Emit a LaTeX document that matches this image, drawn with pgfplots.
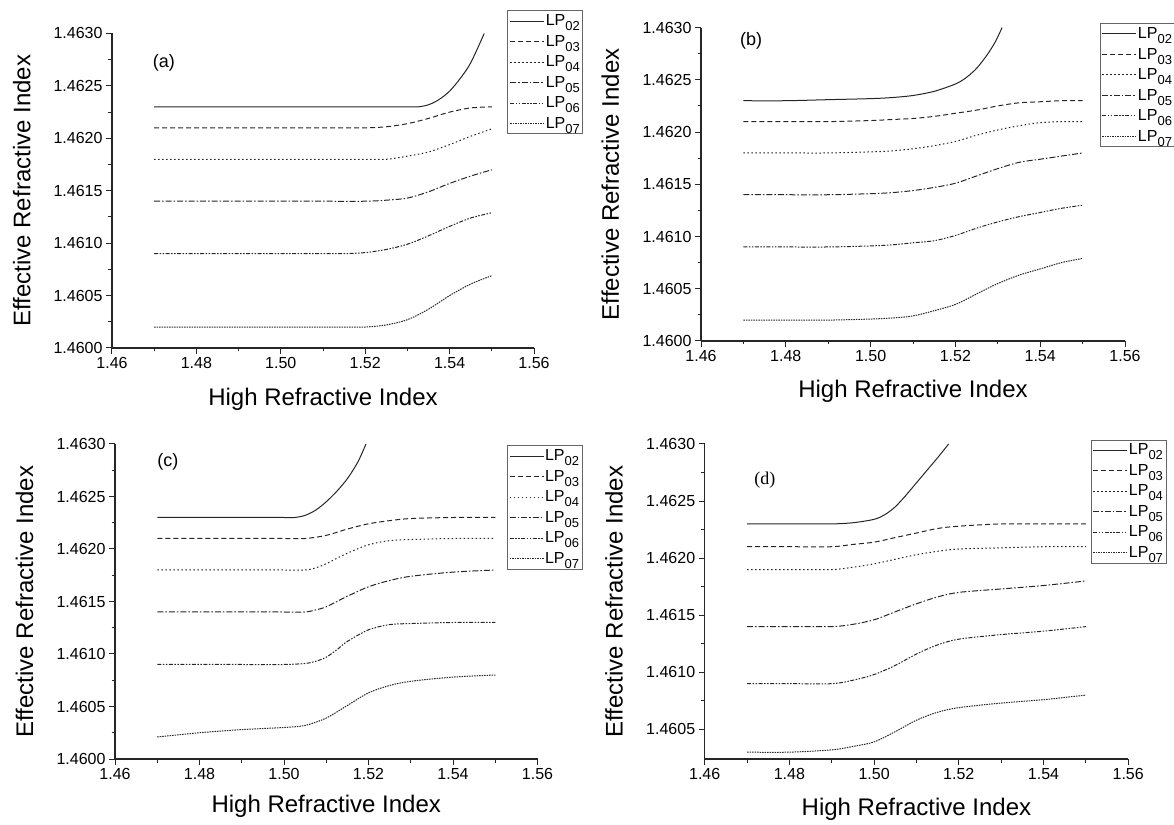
\documentclass[border=0pt]{standalone}
\usepackage{fontspec}
\setmainfont{Liberation Sans}
\newfontfamily\seriffont{Liberation Serif}
\usepackage{pgfplots}
\pgfplotsset{compat=1.18}
\newcommand\sub[1]{\raisebox{-5pt}{\fontsize{13}{13}\selectfont #1}}
% exact read-in of y values of the form 1.46xyz (avoids loss of precision);
% values of any other form are passed through unchanged
\def\YfixIn#1{\edef\YfixTmp{#1}\expandafter\YfixSplit\YfixTmp Y\Ynil}
\def\YfixSplit#1Y#2\Ynil{\ifx\relax#2\relax\YfixPlain{#1}\else\YfixFpu#2\Ynil\fi}
\def\YfixFpu#1e#2]#3\Ynil{\ifnum#2=0 \YfixPlain{#1}\else\let\pgfmathresult\YfixTmp\fi}
\def\YfixPlain#1{\YfixDigits#100000.00000\Ynil}
\def\YfixWant{146}
\def\YfixDigits#1.#2#3#4#5#6#7\Ynil{\def\YfixPre{#1#2#3}%
  \ifx\YfixPre\YfixWant\def\pgfmathresult{#4#5.#6}\else\let\pgfmathresult\YfixTmp\fi}
\pgfplotsset{y coord trafo/.code={\YfixIn{#1}}}
\pgfplotsset{
  s02/.style={black!85, line width=1pt, solid, smooth, tension=0.5},
  s03/.style={black!85, line width=1pt, dash pattern=on 5pt off 3pt, smooth, tension=0.5},
  s04/.style={black!85, line width=1pt, dash pattern=on 1.5pt off 2.5pt, smooth, tension=0.5},
  s05/.style={black!85, line width=1pt, dash pattern=on 6pt off 2pt on 1.5pt off 2pt, smooth, tension=0.5},
  s06/.style={black!85, line width=1pt, dash pattern=on 4pt off 1.5pt on 1.5pt off 1.5pt on 1.5pt off 1.5pt, smooth, tension=0.5},
  s07/.style={black!85, line width=1pt, dash pattern=on 1.5pt off 1pt, smooth, tension=0.5},
  panel/.style={
    scale only axis,
    anchor=south west,
    xmin=1.46, xmax=1.56,
    axis x line*=bottom, axis y line*=left,
    axis line style={line width=1.2pt, black!85},
    tick align=outside,
    major tick length=6pt, minor tick length=3.5pt,
    every tick/.style={line width=1pt, black!85},
    xtick={1.46,1.48,1.50,1.52,1.54,1.56},
    minor xtick={1.47,1.49,1.51,1.53,1.55},
    /pgf/number format/assume math mode=true,
    xticklabel style={font=\fontsize{16}{16}\selectfont, /pgf/number format/.cd, fixed, fixed zerofill, precision=2},
    yticklabel style={font=\fontsize{16}{16}\selectfont},
    xlabel={High Refractive Index},
    ylabel={Effective Refractive Index},
    label style={font=\fontsize{24}{24}\selectfont},
    xlabel style={at={(axis description cs:0.5,-0.162)}, anchor=center},
    ylabel style={at={(axis description cs:-0.214,0.5)}, anchor=center},
    legend cell align=left,
    legend image code/.code={\draw[##1] (0pt,0pt) -- (34pt,0pt);},
    legend style={anchor=north west, draw=black!60, line width=0.8pt, fill=white,
      font=\fontsize{16}{16}\selectfont, inner xsep=2pt, inner ysep=3pt, outer sep=0pt,
      row sep=6pt, nodes={inner sep=1pt}},
  },
  tall/.style={ymin=1.4600, ymax=1.4630,
    ytick={1.4600,1.4605,1.4610,1.4615,1.4620,1.4625,1.4630},
    yticklabels={1.4600,1.4605,1.4610,1.4615,1.4620,1.4625,1.4630},
    minor ytick={1.46025,1.46075,1.46125,1.46175,1.46225,1.46275}},
}
\begin{document}
\begin{tikzpicture}
\useasboundingbox (0pt,0pt) rectangle (1174pt,824pt);
% (a)
\begin{axis}[panel, tall, at={(112pt,476pt)}, width=422pt, height=314.5pt,
  legend style={at={(axis description cs:0.938,1.072)}}]
\addplot[s02] coordinates {(1.47,1.4623)(1.48,1.4623)(1.49,1.4623)(1.50,1.4623)(1.51,1.4623)(1.52,1.4623)(1.525,1.4623)(1.53,1.4623)(1.5325,1.4623)(1.535,1.46232)(1.5375,1.46237)(1.54,1.46245)(1.5425,1.46257)(1.545,1.46272)(1.5482,1.4630)};
\addlegendentry{LP\sub{02}}
\addplot[s03] coordinates {(1.47,1.4621)(1.48,1.4621)(1.49,1.4621)(1.50,1.4621)(1.51,1.4621)(1.515,1.4621)(1.52,1.4621)(1.525,1.46211)(1.53,1.46214)(1.535,1.46219)(1.54,1.46225)(1.545,1.46229)(1.55,1.4623)};
\addlegendentry{LP\sub{03}}
\addplot[s04] coordinates {(1.47,1.4618)(1.48,1.4618)(1.49,1.4618)(1.50,1.4618)(1.51,1.4618)(1.52,1.4618)(1.525,1.4618)(1.53,1.46183)(1.535,1.46187)(1.54,1.46194)(1.545,1.46202)(1.55,1.46209)};
\addlegendentry{LP\sub{04}}
\addplot[s05] coordinates {(1.47,1.4614)(1.48,1.4614)(1.49,1.4614)(1.50,1.4614)(1.51,1.4614)(1.52,1.4614)(1.525,1.46141)(1.53,1.46143)(1.535,1.46149)(1.54,1.46157)(1.545,1.46164)(1.55,1.4617)};
\addlegendentry{LP\sub{05}}
\addplot[s06] coordinates {(1.47,1.4609)(1.48,1.4609)(1.49,1.4609)(1.50,1.4609)(1.51,1.4609)(1.515,1.4609)(1.52,1.46091)(1.525,1.46094)(1.53,1.46099)(1.535,1.46107)(1.54,1.46116)(1.545,1.46124)(1.55,1.46129)};
\addlegendentry{LP\sub{06}}
\addplot[s07] coordinates {(1.47,1.4602)(1.48,1.4602)(1.49,1.4602)(1.50,1.4602)(1.51,1.4602)(1.515,1.4602)(1.52,1.4602)(1.525,1.46022)(1.53,1.46027)(1.535,1.46037)(1.54,1.4605)(1.545,1.46061)(1.55,1.46069)};
\addlegendentry{LP\sub{07}}
\node[font=\fontsize{18}{18}\selectfont] at (axis description cs:0.123,0.908) {(a)};
\end{axis}
% (b)
\begin{axis}[panel, tall, at={(701pt,483pt)}, width=424pt, height=313.4pt,
  legend style={at={(axis description cs:0.941,1.013)}}]
\addplot[s02] coordinates {(1.47,1.4623)(1.48,1.4623)(1.49,1.46231)(1.50,1.46232)(1.505,1.46233)(1.51,1.46235)(1.515,1.46239)(1.52,1.46246)(1.5225,1.46252)(1.525,1.46261)(1.5275,1.46274)(1.5295,1.46287)(1.531,1.4630)};
\addlegendentry{LP\sub{02}}
\addplot[s03] coordinates {(1.47,1.4621)(1.48,1.4621)(1.49,1.4621)(1.50,1.46211)(1.505,1.46212)(1.51,1.46213)(1.515,1.46215)(1.52,1.46218)(1.525,1.46221)(1.53,1.46225)(1.535,1.46228)(1.54,1.46229)(1.545,1.4623)(1.55,1.4623)};
\addlegendentry{LP\sub{03}}
\addplot[s04] coordinates {(1.47,1.4618)(1.48,1.4618)(1.49,1.4618)(1.50,1.46181)(1.505,1.46182)(1.51,1.46184)(1.515,1.46187)(1.52,1.46191)(1.525,1.46197)(1.53,1.46202)(1.535,1.46206)(1.54,1.46209)(1.545,1.4621)(1.55,1.4621)};
\addlegendentry{LP\sub{04}}
\addplot[s05] coordinates {(1.47,1.4614)(1.48,1.4614)(1.49,1.4614)(1.50,1.46141)(1.505,1.46142)(1.51,1.46144)(1.515,1.46147)(1.52,1.46151)(1.525,1.46158)(1.53,1.46165)(1.535,1.46171)(1.54,1.46174)(1.545,1.46177)(1.55,1.4618)};
\addlegendentry{LP\sub{05}}
\addplot[s06] coordinates {(1.47,1.4609)(1.48,1.4609)(1.49,1.4609)(1.50,1.46091)(1.505,1.46092)(1.51,1.46094)(1.515,1.46096)(1.52,1.46101)(1.525,1.46108)(1.53,1.46114)(1.535,1.46119)(1.54,1.46123)(1.545,1.46127)(1.55,1.4613)};
\addlegendentry{LP\sub{06}}
\addplot[s07] coordinates {(1.47,1.4602)(1.48,1.4602)(1.49,1.4602)(1.50,1.46021)(1.505,1.46022)(1.51,1.46024)(1.515,1.46029)(1.52,1.46035)(1.525,1.46045)(1.53,1.46055)(1.535,1.46063)(1.54,1.46069)(1.545,1.46075)(1.55,1.46079)};
\addlegendentry{LP\sub{07}}
\node[font=\fontsize{18}{18}\selectfont] at (axis description cs:0.118,0.959) {(b)};
\end{axis}
% (c)
\begin{axis}[panel, tall, at={(115pt,65pt)}, width=422.5pt, height=315pt,
  xlabel style={at={(axis description cs:0.5,-0.15)}},
  legend style={at={(axis description cs:0.928,0.994)}}]
\addplot[s02] coordinates {(1.47,1.4623)(1.48,1.4623)(1.49,1.4623)(1.50,1.4623)(1.5025,1.4623)(1.505,1.46232)(1.5075,1.46237)(1.51,1.46245)(1.5125,1.46255)(1.515,1.46267)(1.5175,1.46283)(1.5194,1.4630)};
\addlegendentry{LP\sub{02}}
\addplot[s03] coordinates {(1.47,1.4621)(1.48,1.4621)(1.49,1.4621)(1.50,1.4621)(1.505,1.4621)(1.51,1.46213)(1.515,1.46219)(1.52,1.46224)(1.525,1.46227)(1.53,1.46229)(1.54,1.4623)(1.55,1.4623)};
\addlegendentry{LP\sub{03}}
\addplot[s04] coordinates {(1.47,1.4618)(1.48,1.4618)(1.49,1.4618)(1.50,1.4618)(1.505,1.4618)(1.5075,1.46182)(1.51,1.46186)(1.515,1.46196)(1.52,1.46204)(1.525,1.46208)(1.53,1.46209)(1.54,1.4621)(1.55,1.4621)};
\addlegendentry{LP\sub{04}}
\addplot[s05] coordinates {(1.47,1.4614)(1.48,1.4614)(1.49,1.4614)(1.50,1.4614)(1.505,1.4614)(1.5075,1.46142)(1.51,1.46145)(1.515,1.46155)(1.52,1.46164)(1.525,1.4617)(1.53,1.46174)(1.54,1.46178)(1.55,1.4618)};
\addlegendentry{LP\sub{05}}
\addplot[s06] coordinates {(1.47,1.4609)(1.48,1.4609)(1.49,1.4609)(1.50,1.4609)(1.505,1.46091)(1.5075,1.46093)(1.51,1.46097)(1.5125,1.46104)(1.515,1.46112)(1.52,1.46123)(1.525,1.46128)(1.53,1.46129)(1.54,1.4613)(1.55,1.4613)};
\addlegendentry{LP\sub{06}}
\addplot[s07] coordinates {(1.47,1.46021)(1.48,1.46025)(1.49,1.46028)(1.50,1.4603)(1.505,1.46032)(1.51,1.46039)(1.515,1.46051)(1.52,1.46063)(1.525,1.4607)(1.53,1.46074)(1.54,1.46078)(1.55,1.4608)};
\addlegendentry{LP\sub{07}}
\node[font=\fontsize{18}{18}\selectfont] at (axis description cs:0.125,0.943) {(c)};
\end{axis}
% (d)
\begin{axis}[panel, at={(704.7pt,65pt)}, width=423.5pt, height=315pt,
  ymin=1.46024, ymax=1.4630,
  ytick={1.4605,1.4610,1.4615,1.4620,1.4625,1.4630},
  yticklabels={1.4605,1.4610,1.4615,1.4620,1.4625,1.4630},
  minor ytick={1.46075,1.46125,1.46175,1.46225,1.46275},
  xlabel style={at={(axis description cs:0.5,-0.159)}},
  legend style={at={(axis description cs:0.912,1.013)}}]
\addplot[s02] coordinates {(1.47,1.4623)(1.48,1.4623)(1.49,1.4623)(1.495,1.46231)(1.50,1.46234)(1.5025,1.46238)(1.505,1.46245)(1.5075,1.46255)(1.51,1.46266)(1.5125,1.46277)(1.515,1.46288)(1.5176,1.4630)};
\addlegendentry{LP\sub{02}}
\addplot[s03] coordinates {(1.47,1.4621)(1.48,1.4621)(1.49,1.4621)(1.495,1.46212)(1.50,1.46214)(1.505,1.46218)(1.51,1.46222)(1.515,1.46226)(1.52,1.46228)(1.53,1.4623)(1.54,1.4623)(1.55,1.4623)};
\addlegendentry{LP\sub{03}}
\addplot[s04] coordinates {(1.47,1.4619)(1.48,1.4619)(1.49,1.4619)(1.495,1.46192)(1.50,1.46195)(1.505,1.46199)(1.51,1.46203)(1.515,1.46206)(1.52,1.46208)(1.53,1.46209)(1.54,1.4621)(1.55,1.4621)};
\addlegendentry{LP\sub{04}}
\addplot[s05] coordinates {(1.47,1.4614)(1.48,1.4614)(1.49,1.4614)(1.495,1.46142)(1.50,1.46146)(1.505,1.46153)(1.51,1.4616)(1.515,1.46166)(1.52,1.4617)(1.53,1.46173)(1.54,1.46176)(1.55,1.4618)};
\addlegendentry{LP\sub{05}}
\addplot[s06] coordinates {(1.47,1.4609)(1.48,1.4609)(1.49,1.4609)(1.495,1.46093)(1.50,1.46098)(1.505,1.46106)(1.51,1.46116)(1.515,1.46124)(1.52,1.46129)(1.53,1.46133)(1.54,1.46136)(1.55,1.4614)};
\addlegendentry{LP\sub{06}}
\addplot[s07] coordinates {(1.47,1.4603)(1.48,1.4603)(1.49,1.46032)(1.495,1.46035)(1.50,1.46039)(1.505,1.46048)(1.51,1.46058)(1.515,1.46065)(1.52,1.46069)(1.53,1.46073)(1.54,1.46076)(1.55,1.4608)};
\addlegendentry{LP\sub{07}}
\node[font=\seriffont\fontsize{18}{18}\selectfont] at (axis description cs:0.142,0.886) {(d)};
\end{axis}
\end{tikzpicture}
\end{document}
